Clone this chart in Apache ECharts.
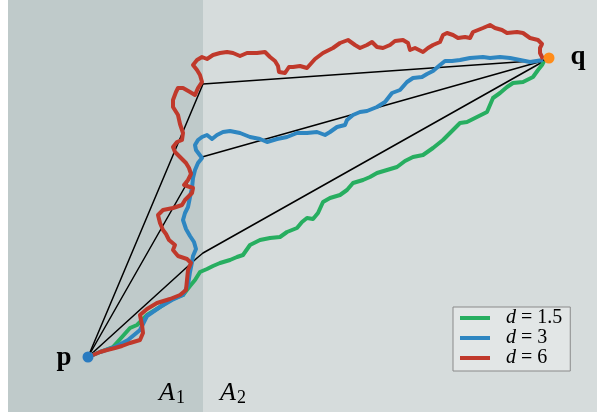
<!DOCTYPE html>
<html>
<head>
    <meta charset="utf-8">
    <title>paths</title>
</head>
<body style="margin:0;background:#fff;">
<div id="main" style="width: 605px;height:415px;"></div>

<script src="https://cdn.jsdelivr.net/npm/echarts@6/dist/echarts.min.js"></script>

<script type="text/javascript">
// endpoints p and q, and the three points on the boundary x = 203
var pPoint = [88, 357];
var qPoint = [549, 58];
var cornerTop = [[88, 357], [203, 84], [546, 60]];
var cornerMid = [[88, 357], [202, 157], [546, 60]];
var cornerLow = [[88, 357], [197, 258], [203, 253], [546, 60]];

// the two regions A1 | A2
var regionA1 = [8, 203];
var regionA2 = [203, 597];
var regionY = [0, 412];

// d = 1.5
var pathGreen = [[88,357],[100,352],[113,347],[122,337],[130,328],[137,325],[147,315],[160,307],[170,300],[183,295],[190,286],[195,280],[200,272],[207,269],[213,266],[220,263],[230,260],[237,257],[243,255],[250,245],[260,240],[270,238],[280,237],[287,232],[297,228],[302,222],[307,218],[313,219],[318,213],[323,202],[330,198],[340,195],[347,190],[353,183],[363,180],[370,177],[377,173],[387,170],[397,167],[405,161],[413,157],[423,155],[433,148],[443,140],[450,133],[460,123],[467,122],[477,117],[487,112],[493,98],[500,93],[507,87],[513,83],[523,82],[533,77],[538,70],[542,65],[544,61]];

// d = 3
var pathBlue = [[88,357],[100,352],[115,347],[128,340],[140,330],[147,316],[160,307],[172,300],[183,295],[188,285],[190,272],[192,262],[193,256],[196,249],[194,242],[190,236],[186,229],[183,220],[185,213],[188,207],[190,197],[192,188],[193,178],[195,170],[198,163],[202,158],[199,154],[196,150],[195,145],[198,140],[202,137],[207,135],[212,139],[217,135],[223,132],[230,131],[240,133],[250,137],[260,139],[267,142],[277,139],[287,137],[297,133],[307,133],[317,132],[325,135],[330,132],[337,127],[345,125],[347,120],[353,115],[360,112],[367,111],[377,107],[385,102],[392,93],[400,90],[407,82],[413,78],[422,77],[427,74],[433,71],[440,65],[445,61],[452,61],[460,60],[470,58],[483,57],[490,58],[500,57],[510,58],[520,60],[530,62],[543,60]];

// d = 6
var pathRed = [[88,357],[93,355],[100,352],[107,350],[115,348],[122,346],[130,343],[140,340],[143,333],[142,325],[140,315],[147,309],[157,303],[170,299],[180,295],[186,290],[187,280],[188,270],[191,263],[187,259],[178,256],[173,250],[175,245],[169,240],[166,234],[163,230],[160,223],[158,215],[163,210],[173,208],[182,205],[185,200],[192,193],[193,188],[184,185],[188,180],[191,174],[189,168],[186,163],[180,157],[175,152],[173,147],[177,142],[182,140],[183,133],[180,124],[178,115],[173,107],[173,100],[176,92],[178,88],[183,88],[190,92],[195,95],[198,88],[202,82],[200,75],[197,70],[193,65],[197,60],[202,57],[207,59],[213,55],[220,53],[227,52],[233,53],[240,56],[247,53],[257,53],[265,52],[270,57],[275,61],[278,66],[279,72],[277,74],[285,73],[289,67],[293,67],[300,66],[307,68],[315,59],[323,53],[333,48],[340,43],[348,40],[355,45],[360,48],[367,45],[372,42],[377,47],[383,48],[390,45],[395,41],[403,40],[408,43],[410,50],[415,48],[423,52],[428,48],[433,45],[440,42],[443,35],[447,33],[453,35],[458,38],[465,37],[470,38],[473,32],[483,28],[490,25],[495,28],[502,30],[507,33],[517,32],[523,33],[530,38],[538,40],[542,44],[540,48],[540,53],[543,59]];

// text labels and where they sit
var labelNames = ['p', 'q', 'A1', 'A2'];
var labelPos = [[64, 358], [578, 57], [172, 393], [233, 393]];

var seriesNames = ['d = 1.5', 'd = 3', 'd = 6'];
var seriesColors = ['#27ae60', '#2e86c1', '#c0392b'];

var myChart = echarts.init(document.getElementById('main'));

var serif = '"Liberation Serif", "DejaVu Serif", serif';

function blackLine(pts) {
    return {
        type: 'line', data: pts, showSymbol: false, silent: true, z: 2,
        lineStyle: { color: '#000', width: 1.5 }
    };
}

function walk(name, pts, color, z) {
    return {
        name: name, type: 'line', data: pts, showSymbol: false, z: z,
        lineStyle: { color: color, width: 4, join: 'round' },
        itemStyle: { color: color }
    };
}

var labelData = labelNames.map(function (n, i) {
    return { name: n, value: labelPos[i] };
});

var option = {
    animation: false,
    grid: { left: 0, right: 0, top: 0, bottom: 0 },
    xAxis: { type: 'value', min: 0, max: 605, show: false },
    yAxis: { type: 'value', min: 0, max: 415, inverse: true, show: false },
    // 图例
    legend: {
        data: seriesNames,
        orient: 'vertical',
        left: 453, top: 307,
        padding: [1, 8, 3, 7],
        itemGap: 0,
        itemWidth: 30, itemHeight: 4,
        icon: 'rect',
        selectedMode: false,
        backgroundColor: '#e2e6e6',
        borderColor: '#8a8a8a', borderWidth: 1, borderRadius: 0,
        formatter: function (name) {
            return '{i|d}{n|' + name.slice(1) + '}';
        },
        textStyle: {
            padding: [0, 0, 0, 11],
            rich: {
                i: { fontFamily: serif, fontStyle: 'italic', fontSize: 20, lineHeight: 20, color: '#000' },
                n: { fontFamily: serif, fontSize: 20, lineHeight: 20, color: '#000' }
            }
        }
    },
    series: [
        {
            // background regions
            type: 'line', data: [], silent: true,
            markArea: {
                silent: true,
                data: [
                    [{ xAxis: regionA1[0], yAxis: regionY[0], itemStyle: { color: '#bfcaca', opacity: 1 } }, { xAxis: regionA1[1], yAxis: regionY[1] }],
                    [{ xAxis: regionA2[0], yAxis: regionY[0], itemStyle: { color: '#d6dcdc', opacity: 1 } }, { xAxis: regionA2[1], yAxis: regionY[1] }]
                ]
            }
        },
        blackLine(cornerTop),
        blackLine(cornerMid),
        blackLine(cornerLow),
        walk(seriesNames[0], pathGreen, seriesColors[0], 3),
        walk(seriesNames[1], pathBlue, seriesColors[1], 4),
        walk(seriesNames[2], pathRed, seriesColors[2], 5),
        {
            // p and q
            type: 'scatter', z: 6, symbolSize: 11, silent: true,
            itemStyle: { opacity: 1 },
            data: [
                { value: pPoint, itemStyle: { color: '#2a7bc0' } },
                { value: qPoint, itemStyle: { color: '#ff8c1a' } }
            ]
        },
        {
            // texts
            type: 'scatter', z: 7, symbolSize: 0, silent: true,
            itemStyle: { opacity: 1 },
            data: labelData,
            label: {
                show: true, position: 'inside', opacity: 1,
                formatter: function (o) {
                    if (o.name.length > 1) {
                        return '{a|' + o.name[0] + '}{s|' + o.name[1] + '}';
                    }
                    return '{b|' + o.name + '}';
                },
                rich: {
                    b: { fontFamily: serif, fontWeight: 'bold', fontSize: 27, color: '#000' },
                    a: { fontFamily: serif, fontStyle: 'italic', fontSize: 26, color: '#000' },
                    s: { fontFamily: serif, fontSize: 18, color: '#000', padding: [10, 0, 0, 1] }
                }
            }
        }
    ]
};

myChart.setOption(option);
</script>
</body>
</html>
